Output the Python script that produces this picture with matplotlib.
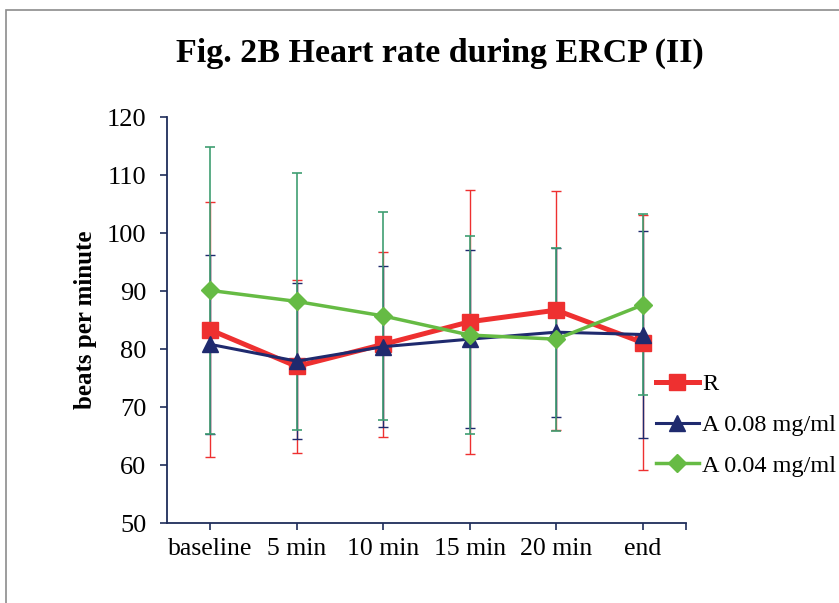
import numpy as np
import matplotlib
matplotlib.use("Agg")
from matplotlib import pyplot as plt
from matplotlib.patches import Rectangle

# heart rate (mean and SD) at each time point
times = ["baseline", "5 min", "10 min", "15 min", "20 min", "end"]
r_mean = [83.3, 77.0, 80.8, 84.7, 86.7, 81.1]
r_sd = [22.0, 14.9, 15.9, 22.8, 20.6, 22.0]
a08_mean = [80.8, 77.9, 80.4, 81.7, 82.9, 82.5]
a08_sd = [15.4, 13.4, 13.9, 15.4, 14.6, 17.9]
a04_mean = [90.1, 88.2, 85.7, 82.4, 81.7, 87.6]
a04_sd = [24.7, 22.1, 17.9, 17.1, 15.8, 15.6]

plt.rcParams['font.family'] = ['Liberation Serif', 'DejaVu Serif']

RED = '#EE3030'
NAVY = '#1F2A6E'
GREEN = '#66BB44'
GREEN_ERR = '#3F9E72'
AXIS = '#1F2D5A'

fig = plt.figure(figsize=(8.39, 6.03), dpi=100)
ax = fig.add_axes([167/839, 1-523/603, (686-167)/839, (523-117)/603])

# outer frame of the chart area
fig.patches.append(Rectangle((6/839, -0.05), 1.1, 1-10/603+0.05, transform=fig.transFigure,
                             fill=False, edgecolor='#8c8c8c', linewidth=1.2))

x = np.arange(len(times))

# error bars first so the lines and markers sit on top
ax.errorbar(x, r_mean, yerr=r_sd, fmt='none', ecolor=RED, elinewidth=1.0, capsize=3.8, capthick=1.0, zorder=2)
ax.errorbar(x, a08_mean, yerr=a08_sd, fmt='none', ecolor=NAVY, elinewidth=1.0, capsize=3.8, capthick=1.0, zorder=2)
ax.errorbar(x, a04_mean, yerr=a04_sd, fmt='none', ecolor=GREEN_ERR, elinewidth=1.2, capsize=3.8, capthick=1.2, zorder=2)

ax.plot(x, r_mean, color=RED, linewidth=3.6, marker='s', markersize=11, label='R', zorder=3)
ax.plot(x, a08_mean, color=NAVY, linewidth=2.2, marker='^', markersize=11, label='A 0.08 mg/ml', zorder=4)
ax.plot(x, a04_mean, color=GREEN, linewidth=2.5, marker='D', markersize=9, label='A 0.04 mg/ml', zorder=5)

ax.set_xlim(-0.5, 5.5)
ax.set_ylim(50, 120)
ax.set_yticks(range(50, 121, 10))
ax.set_xticks(x)
ax.set_xticklabels(times)
ax.set_xticks([5.5], minor=True)

for side in ['top', 'right']:
    ax.spines[side].set_visible(False)
for side in ['left', 'bottom']:
    ax.spines[side].set_color(AXIS)
    ax.spines[side].set_linewidth(1.3)

ax.tick_params(axis='y', direction='out', length=5, width=1.2, color=AXIS, pad=10, labelsize=19)
ax.tick_params(axis='x', which='both', direction='out', length=5, width=1.2, color=AXIS, pad=6, labelsize=18.5)

ax.set_ylabel('beats per minute', fontsize=18, fontweight='bold')
ax.yaxis.set_label_coords(-0.135, 0.5)

fig.text(0.5244, 1-53/603, 'Fig. 2B Heart rate during ERCP (II)', ha='center', va='center',
         fontsize=24.5, fontweight='bold')

ax.legend(loc='center left', bbox_to_anchor=(656/839, 1-425/603), bbox_transform=fig.transFigure,
          frameon=False, fontsize=17.5, handlelength=1.75, handletextpad=0.15, labelspacing=0.77,
          borderaxespad=0, borderpad=0)

fig.savefig('out.png', dpi=100)
